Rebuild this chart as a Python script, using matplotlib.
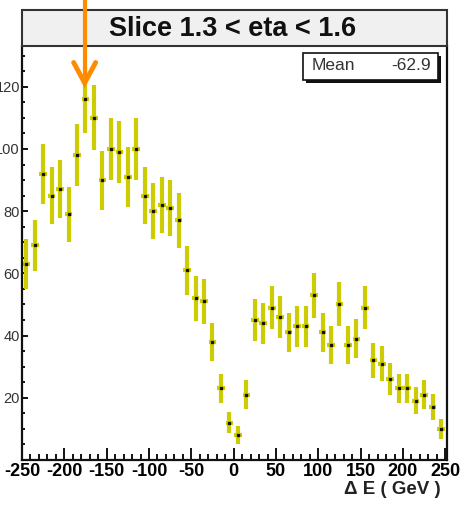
# Histograma Delta E en el slice 1.3 < eta < 1.6 (estilo ROOT)
import numpy as np
import matplotlib.pyplot as plt
from matplotlib.patches import Rectangle

plt.rcParams['font.family'] = ['Liberation Sans', 'DejaVu Sans']

# datos
centros = [-245, -235, -225, -215, -205, -195, -185, -175, -165, -155,
           -145, -135, -125, -115, -105, -95, -85, -75, -65, -55,
           -45, -35, -25, -15, -5, 5, 15, 25, 35, 45,
           55, 65, 75, 85, 95, 105, 115, 125, 135, 145,
           155, 165, 175, 185, 195, 205, 215, 225, 235, 245]
cuentas = [63, 69, 92, 85, 87, 79, 98, 116, 110, 90,
           100, 99, 91, 100, 85, 80, 82, 81, 77, 61,
           52, 51, 38, 23, 12, 8, 21, 45, 44, 49,
           46, 41, 43, 43, 53, 41, 37, 50, 37, 39,
           49, 32, 31, 26, 23, 23, 19, 21, 17, 10]
ancho_bin = 10
titulo = 'Slice 1.3 < eta < 1.6'
media = '-62.9'
flecha_x = -176
xticks = [-250, -200, -150, -100, -50, 0, 50, 100, 150, 200, 250]
yticks = [20, 40, 60, 80, 100, 120]

W, H = 462, 505
fig = plt.figure(figsize=(W / 100, H / 100), dpi=100)
ax = fig.add_axes([22 / W, 1 - 460 / H, 425 / W, 414 / H])

amarillo = '#cccc00'
errores = np.sqrt(cuentas)
ax.errorbar(centros, cuentas, yerr=errores, xerr=ancho_bin / 2 * 0.9,
            fmt='none', ecolor=amarillo, elinewidth=3, zorder=2)
ax.plot(centros, cuentas, 's', ms=1.8, color='#111111', zorder=3)

ax.set_xlim(-250, 252)
ax.set_ylim(0, 133.1)

ax.set_xticks(xticks)
ax.set_xticklabels([str(t) for t in xticks], fontsize=13, fontweight='bold')
ax.set_xticks(np.arange(-250, 251, 10), minor=True)
ax.set_yticks(yticks)
ax.set_yticklabels([str(t) for t in yticks], fontsize=10.5, color='#333333')
ax.set_yticks(np.arange(5, 133, 5), minor=True)

ax.tick_params(axis='x', which='major', direction='in', length=8.5, width=1.3, pad=2)
ax.tick_params(axis='x', which='minor', direction='in', length=4, width=1.3)
ax.tick_params(axis='y', which='major', direction='in', length=4, width=1.3, pad=1.5)
ax.tick_params(axis='y', which='minor', direction='in', length=2.4, width=1.3)

for lado in ['left', 'bottom', 'right']:
    ax.spines[lado].set_linewidth(1.6)
    ax.spines[lado].set_color('#111111')
ax.spines['top'].set_visible(False)

# caja del titulo
caja = Rectangle((22 / W, 1 - 46 / H), 425 / W, 36 / H, transform=fig.transFigure,
                 facecolor='#f0f0f0', edgecolor='#333333', lw=1.5,
                 clip_on=False, zorder=5)
ax.add_patch(caja)
ax.text(232.7 / W, 1 - 28.5 / H, titulo, transform=fig.transFigure,
        ha='center', va='center', fontsize=19.5, fontweight='bold',
        color='#111111', zorder=6)

# caja de estadistica con sombra
sombra = Rectangle((306 / W, 1 - 83 / H), 135 / W, 27 / H, transform=fig.transFigure,
                   facecolor='#111111', edgecolor='none', clip_on=False, zorder=5)
stats = Rectangle((303 / W, 1 - 80 / H), 135 / W, 27 / H, transform=fig.transFigure,
                  facecolor='white', edgecolor='#111111', lw=1.2, clip_on=False, zorder=6)
ax.add_patch(sombra)
ax.add_patch(stats)
ax.text(312 / W, 1 - 66 / H, 'Mean', transform=fig.transFigure, ha='left',
        va='center', fontsize=12.5, color='#333333', zorder=7)
ax.text(431 / W, 1 - 66 / H, media, transform=fig.transFigure, ha='right',
        va='center', fontsize=12.5, color='#333333', zorder=7)

# titulo del eje x
fig.text(441 / W, 1 - 490 / H, '\u0394 E ( GeV )', ha='right', va='center',
         fontsize=13.5, fontweight='bold', color='#222222')

# flecha naranja
naranja = '#ff8c00'
ax.plot([flecha_x, flecha_x], [121.5, 160], color=naranja, lw=3,
        solid_capstyle='butt', clip_on=False, zorder=10)
ax.plot([flecha_x - 13, flecha_x, flecha_x + 13], [127.8, 121.2, 127.8],
        color=naranja, lw=3.5, solid_joinstyle='miter', solid_capstyle='round',
        clip_on=False, zorder=10)

fig.savefig('out.png', dpi=100)
